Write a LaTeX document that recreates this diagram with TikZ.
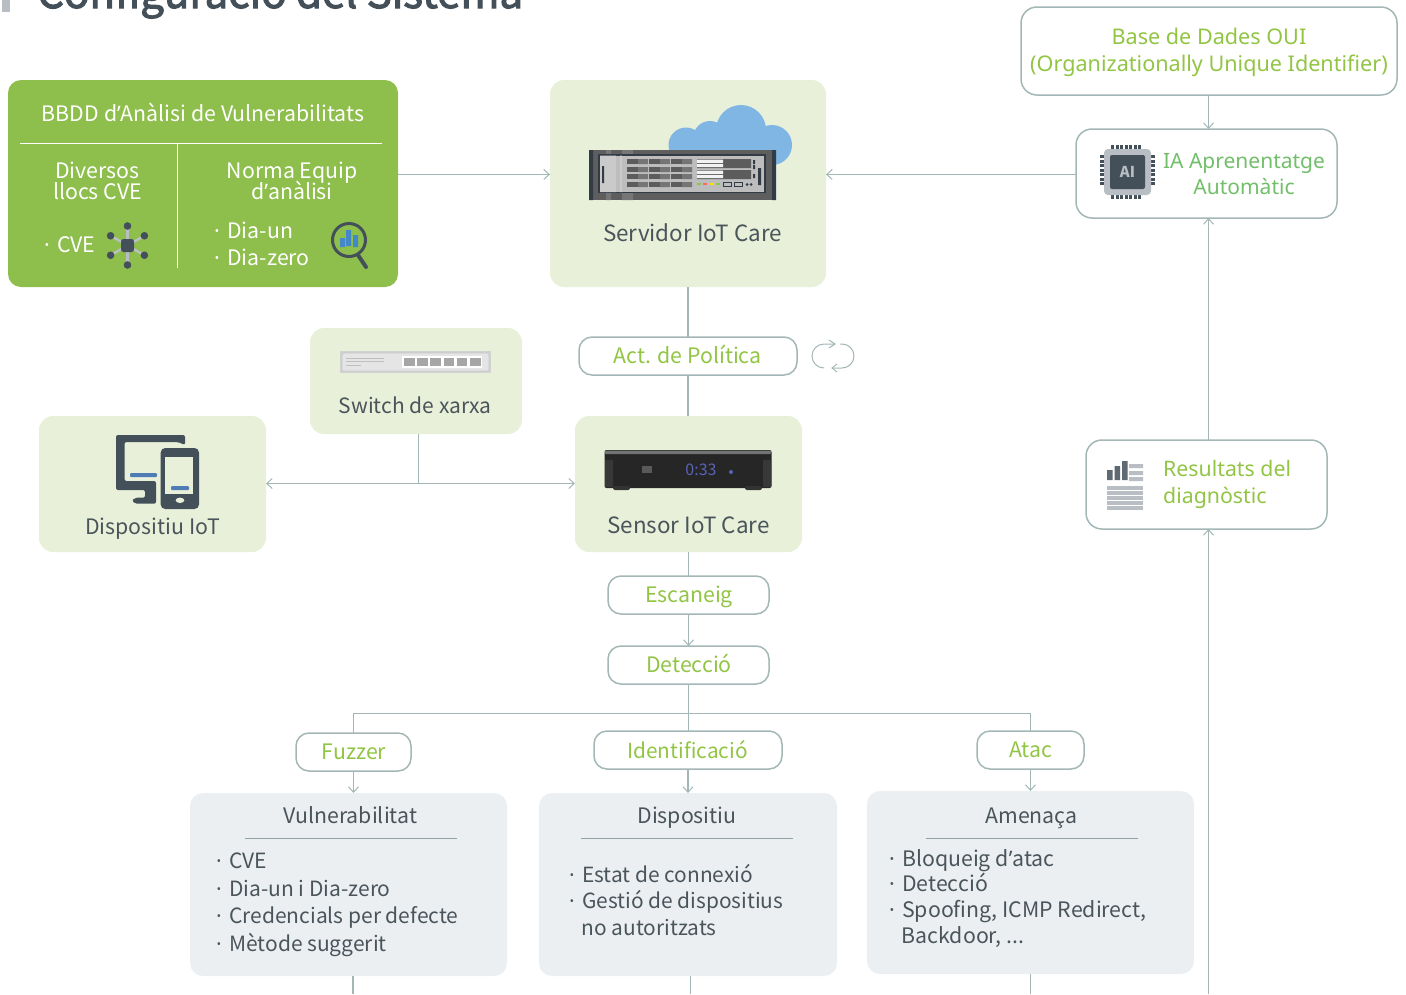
\documentclass[tikz,border=0pt]{standalone}
\usepackage{fontspec}
\setmainfont[RawFeature={+palt}]{Noto Sans CJK SC}
\newfontfamily\grn{Noto Sans}
\newfontfamily\ttl[FakeBold=2.5,RawFeature={+palt}]{Noto Sans CJK SC}
\usetikzlibrary{arrows.meta}
\definecolor{lineC}{HTML}{A3B7B6}
\definecolor{paleG}{HTML}{E9F0D9}
\definecolor{strongG}{HTML}{8EBE4C}
\definecolor{textG}{HTML}{92C544}
\definecolor{textA}{HTML}{72BF6A}
\definecolor{textD}{HTML}{4A555B}
\definecolor{iconD}{HTML}{434F59}
\definecolor{paleB}{HTML}{ECEFF2}
\definecolor{greyL}{HTML}{B8BEC3}
\definecolor{cloudB}{HTML}{7FB6E3}
\definecolor{barB}{HTML}{4488C8}
\definecolor{devB}{HTML}{4F7CB5}
\definecolor{srvA}{HTML}{5E5E5E}
\definecolor{srvB}{HTML}{333B47}
\definecolor{srvC}{HTML}{BDBDBD}
\definecolor{srvD}{HTML}{5C5C5C}
\definecolor{dispB}{HTML}{5A63B8}
\AtBeginDocument{\lineskiplimit=-30pt}
\newcommand{\ap}{{\grn ’}}
\newcommand{\bl}{\makebox[13pt][l]{\grn ·}}
\tikzset{
 x=1pt,y=-1pt,
 conn/.style={draw=lineC,line width=1.2pt},
 arr/.style={conn,-{Straight Barb[length=5.5pt,width=10pt,line width=1pt]}},
 palebox/.style={fill=paleG,rounded corners=14pt,inner sep=0pt,outer sep=0pt,anchor=north west},
 greybox/.style={fill=paleB,rounded corners=13pt,inner sep=0pt,outer sep=0pt,anchor=north west},
 pill/.style={draw=lineC,line width=1.5pt,fill=white,rounded corners=13pt,inner sep=0pt,outer sep=0pt,anchor=north west},
 bigpill/.style={pill,rounded corners=16pt},
 ptxt/.style={text=textG,font=\fontsize{21.3}{24}\selectfont,inner sep=0pt,text height=17pt,text depth=0pt},
 lab/.style={text=textD,font=\fontsize{21.3}{24}\selectfont,inner sep=0pt,text height=17pt,text depth=0pt},
 bigl/.style={lab,font=\fontsize{22.4}{24}\selectfont},
 wlab/.style={text=white,font=\fontsize{21.3}{20.5}\selectfont,inner sep=0pt,align=center},
 dlist/.style={text=textD,font=\fontsize{21}{27.4}\selectfont,inner sep=0pt,align=left,anchor=north west},
 gtxt/.style={text=textG,font=\grn\fontsize{21.6}{27}\selectfont,inner sep=0pt},
}
\newcommand{\bx}[5]{\node[#1,minimum width=#4pt,minimum height=#5pt] (#2) at (#3) {};}
\begin{document}
\begin{tikzpicture}
\useasboundingbox (0,0) rectangle (1406,994);
% title
\fill[greyL] (2,0) rectangle (10,12);
\node[anchor=base west,inner sep=0pt,text=iconD,font=\ttl\fontsize{42}{41}\selectfont] (title) at (37,8) {Configuració del Sistema};
% Vulnerability DB
\bx{palebox,fill=strongG,rounded corners=13pt}{bbdd}{8,80}{390}{207}
\node[wlab] (bbddt) at (203,112) {BBDD d\ap Anàlisi de Vulnerabilitats};
\draw[white,line width=1pt] (20,143) -- (382,143);
\draw[white,line width=1pt] (177,144) -- (177,268);
\node[wlab] (bbddl) at (97.5,181) {Diversos\\llocs CVE};
\node[wlab] (bbddr) at (292,181) {Norma Equip\\d\ap anàlisi};
\node[wlab,anchor=west] (cve) at (44,245) {\bl CVE};
\node[wlab,anchor=west] (d1) at (214,230) {\bl Dia-un};
\node[wlab,anchor=west] (d2) at (214,257) {\bl Dia-zero};
% cve icon
\coordinate (cveC) at (127.5,245.5);
\foreach \a in {30,90,150,210,270,330}{
 \draw[greyL,line width=2.5pt] (cveC) -- ++(\a:19);
 \fill[iconD] (cveC) ++(\a:19.5) circle (3.8pt);}
\fill[iconD,rounded corners=2.5pt] (121,239) rectangle (134,252);
% magnifier
\draw[iconD,line width=3pt] (349,240) circle (16.5);
\draw[iconD,line width=4pt,line cap=round] (358,255) -- (366,267);
\fill[barB] (340,238) rectangle (345,247) (346,230) rectangle (351,246) (353,235) rectangle (358,247);
% server
\bx{palebox}{serv}{550,80}{276}{207}
\fill[cloudB] (686,145) circle (17.5) (710,138) circle (17) (741,130) circle (25) (772,145) circle (20);
\fill[cloudB] (680,135) rectangle (772,165);
\fill[srvA] (589,150) rectangle (776,200);
\fill[srvB] (589,150) rectangle (593,200) (772,150) rectangle (776,200);
\fill[srvA!85!white] (606,150) rectangle (611,154) (622,150) rectangle (633,154) (606,193) rectangle (611,200) (622,193) rectangle (633,200);
\fill[srvB] (598,154) rectangle (766,193);
\fill[srvC] (600,155.5) rectangle (764,192);
\fill[srvC!80!white] (600,155.5) rectangle (616,192) (620,155.5) rectangle (622,192);
\fill[srvB] (602,166) rectangle (604,183) (758,168) rectangle (761,185);
\foreach \yy in {159,167,174,182}{
 \fill[srvD] (627,\yy) rectangle (692,\yy+5);
 \fill[srvD!85!white] (638,\yy) rectangle (648,\yy+5) (660,\yy) rectangle (670,\yy+5) (682,\yy) rectangle (692,\yy+5);
 \fill[white!85!gray] (648,\yy) rectangle (648.6,\yy+5) (670,\yy) rectangle (670.6,\yy+5);}
\fill[srvD] (697,159) rectangle (751,168) (697,170) rectangle (751,179);
\fill[white!90!gray] (697,159.7) rectangle (723,163) (697,164) rectangle (723,167) (697,170.7) rectangle (723,174) (697,175) rectangle (723,178);
\fill[srvB] (753,160) rectangle (755,164) (753,165) rectangle (755,169) (753,174) rectangle (755,178);
\fill[textG] (697,183.3) rectangle (701,185);
\fill[red!60] (703,183.3) rectangle (707,185);
\fill[yellow!80!orange] (710,183.3) rectangle (714,185);
\fill[textG] (716,183.3) rectangle (720,185);
\draw[srvB,line width=.8pt] (723,182.5) rectangle (731,186) (734,182.5) rectangle (742,186);
\fill[srvB] (747,184.5) circle (1.5) (751,184.5) circle (1.5);
\node[bigl] (servt) at (692.5,233) {Servidor IoT Care};
% OUI
\bx{bigpill}{oui}{1021,7}{376}{88}
\node[gtxt,align=center] (ouit) at (1209,52) {Base de Dades OUI\\(Organizationally Unique Identifier)};
% AI
\bx{bigpill}{ai}{1076,129}{261}{89}
\node[gtxt,text=textA,font=\grn\fontsize{21}{26}\selectfont,align=center] (ait) at (1244,174) {IA Aprenentatge\\Automàtic};
\foreach \i in {0,...,6}{
 \fill[iconD] (1111+\i*4.5,145) rectangle ++(3,4);
 \fill[iconD] (1111+\i*4.5,194.5) rectangle ++(3,4);
 \fill[iconD] (1100,155+\i*4.5) rectangle ++(4,3);
 \fill[iconD] (1150.5,155+\i*4.5) rectangle ++(4,3);}
\fill[greyL,rounded corners=4pt] (1104,149) rectangle (1151,195);
\fill[iconD,rounded corners=2pt] (1110,155) rectangle (1145,189);
\node[text=greyL,font=\bfseries\fontsize{15}{15}\selectfont,inner sep=0pt] (aiic) at (1127.5,172) {AI};
% Policy
\bx{pill}{pol}{579,337}{218}{38}
\node[ptxt] (polt) at (687.5,355) {Act. de Política};
\draw[lineC,line width=1pt] (835,344) -- (824,344) arc[start angle=270,end angle=90,radius=12];
\draw[lineC,line width=1pt] (829,340) -- (835,344) -- (829,348);
\draw[lineC,line width=1pt] (832,368) -- (842,368) arc[start angle=90,end angle=-90,radius=12] -- (840,344);
\draw[lineC,line width=1pt] (837,364) -- (832,368) -- (837,372);
% Switch
\bx{palebox}{sw}{310,328}{212}{106}
\fill[gray!35] (340,351) rectangle (491,373);
\fill[gray!20,draw=gray!45,line width=.7pt,rounded corners=1.5pt] (342,353) rectangle (489,371);
\draw[gray!50,line width=1pt] (346,358.5) -- (384,358.5) (346,361.5) -- (384,361.5);
\draw[gray!50,line width=1pt] (346,365) -- (361,365);
\fill[white] (402,356) rectangle (482,368);
\foreach \i in {0,...,5}{\fill[gray!70] (404+\i*13.2,358) rectangle ++(10.5,8);}
\node[lab,font=\fontsize{21}{24}\selectfont] (swt) at (415,405) {Switch de xarxa};
% IoT device
\bx{palebox}{iot}{39,416}{227}{136}
\fill[iconD,rounded corners=2pt] (116,435) -- (185,435) -- (185,445) -- (178,442) -- (124.5,442) -- (124.5,481) -- (156,481) -- (156,503.7) -- (135,503.7) -- (132,500.7) -- (135,497.7) -- (145,497.7) -- (145,490) -- (116,490) -- cycle;
\fill[iconD,rounded corners=4.5pt] (160.7,448) rectangle (199,509);
\fill[paleG] (165,456.7) rectangle (193,494.3);
\fill[paleG] (180,500.3) ellipse[x radius=4.3,y radius=2.7];
\fill[devB,rounded corners=1pt] (130,473) rectangle (157,477);
\fill[devB,rounded corners=1pt] (171,486) rectangle (189,490);
\node[lab] (iott) at (152.5,526) {Dispositiu IoT};
% Sensor
\bx{palebox}{sen}{575,416}{227}{136}
\fill[black!85,rounded corners=2pt] (604.5,450) rectangle (771.5,488);
\fill[black!55,rounded corners=1pt] (605,450.5) rectangle (771,454);
\fill[black!78] (605,460) rectangle (613,487) (763,460) rectangle (771,487);
\fill[black!80,rounded corners=2pt] (613,486) rectangle (630,490) (745,486) rectangle (762,490);
\node[text=dispB,font=\fontsize{16}{16}\selectfont,inner sep=0pt] (sendisp) at (701,470) {0:33};
\fill[dispB] (731,472) circle (2);
\fill[black!65] (642,466) rectangle (652,473);
\node[bigl] (sent) at (688.5,525) {Sensor IoT Care};
% Results
\bx{bigpill}{res}{1086,440}{241}{89}
\node[gtxt,align=left,anchor=west,font=\grn\fontsize{21.3}{27}\selectfont] (rest) at (1163,484) {Resultats del\\diagnòstic};
\fill[iconD!85!white] (1107,470) rectangle (1112.5,480) (1114.5,466) rectangle (1120,480) (1122,461) rectangle (1127.5,480);
\fill[greyL] (1129,464) rectangle (1143,468) (1129,471) rectangle (1143,475) (1129,477) rectangle (1143,481);
\foreach \yy in {486,491,496,501,506}{\fill[greyL] (1107,\yy) rectangle (1143,\yy+4);}
% scan / detect
\bx{pill}{esc}{608,576}{161}{38}
\node[ptxt] (esct) at (689,594) {Escaneig};
\bx{pill}{det}{608,646}{161}{38}
\node[ptxt] (dett) at (689,664) {Detecció};
% categories
\bx{pill}{fuz}{296,733}{115}{38}
\node[ptxt] (fuzt) at (354,751) {Fuzzer};
\bx{pill}{ide}{594,731}{188}{38}
\node[ptxt,font=\fontsize{20.8}{24}\selectfont] (idet) at (687.5,749.5) {Identificació};
\bx{pill}{ata}{977,731}{107}{38}
\node[ptxt] (atat) at (1030.5,749) {Atac};
% grey boxes
\bx{greybox}{vul}{190,793}{317}{183}
\bx{greybox}{dis}{539,793}{298}{183}
\bx{greybox}{ame}{867,791}{327}{183}
\node[lab] (vult) at (350.5,815) {Vulnerabilitat};
\node[lab] (dist) at (687,815) {Dispositiu};
\node[lab] (amet) at (1031.5,815) {Amenaça};
\draw[lineC!80!textD,line width=1pt] (245,838) -- (457,838) (581,838) -- (793,838) (926,838) -- (1138,838);
\node[dlist] (vull) at (216,853) {\bl CVE\\\bl Dia-un i Dia-zero\\\bl Credencials per defecte\\\bl Mètode suggerit};
\node[dlist,font=\fontsize{20.9}{26.5}\selectfont] (disl) at (569,864) {\bl Estat de connexió\\\bl Gestió de dispositius\\\hspace*{12.5pt}no autoritzats};
\node[dlist,font=\fontsize{21.3}{25.7}\selectfont] (amel) at (889,849) {\bl Bloqueig d\ap atac\\\bl Detecció\\\bl Spoofing, ICMP Redirect,\\\hspace*{12.5pt}Backdoor, ...};
% connectors
\draw[arr] (bbdd.east |- 0,174.4) -- (serv.west |- 0,174.4);
\draw[arr] (ai.west |- 0,174.4) -- (serv.east |- 0,174.4);
\draw[arr] (oui.south -| 0,0) ++(1208.5,0) -- (ai.north -| 1208.5,0);
\draw[conn] (serv.south -| pol) -- (pol.north);
\draw[conn] (pol.south) -- (sen.north -| pol);
\coordinate (swj) at (418.5,483.5);
\draw[conn] (sw.south -| swj) -- (swj);
\draw[arr] (swj) -- (iot.east |- swj);
\draw[arr] (swj) -- (sen.west |- swj);
\draw[conn] (sen.south -| esc) -- (esc.north);
\draw[arr] (esc.south) -- (det.north);
\draw[conn] (det.south) -- (ide.north -| det);
\coordinate (busL) at (353.5,713.5);
\coordinate (busR) at (1030.5,713.5);
\draw[conn] (fuz.north -| busL) -- (busL) -- (busR) -- (ata.north -| busR);
\draw[arr] (fuz.south -| busL) -- (vul.north -| busL);
\draw[arr] (ide.south) -- (dis.north -| ide);
\draw[arr] (ata.south -| busR) -- (ame.north -| busR);
\coordinate (rtop) at (1208.5,440);
\coordinate (rbot) at (1208.5,994);
\draw[arr] (res.north -| rtop) -- (ai.south -| rtop);
\draw[arr] (rbot) -- (res.south -| rbot);
\coordinate (e1) at (353,994);
\coordinate (e2) at (690.5,994);
\coordinate (e3) at (1030.5,994);
\draw[conn] (vul.south -| e1) -- (e1);
\draw[conn] (dis.south -| e2) -- (e2);
\draw[conn] (ame.south -| e3) -- (e3);
\end{tikzpicture}
\end{document}
